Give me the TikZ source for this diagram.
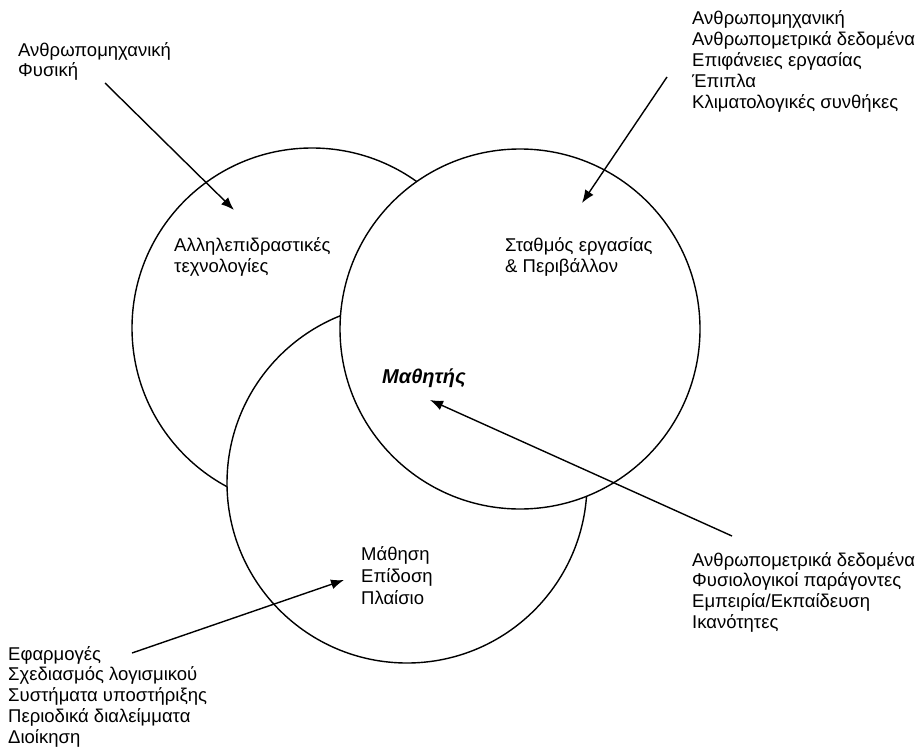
\documentclass[tikz,border=0pt]{standalone}
\usepackage{fontspec}
\setmainfont{Liberation Sans}
\usetikzlibrary{arrows.meta}
\tikzset{
  ring/.style={draw, circle, line width=1.4pt, fill=white, minimum size=360pt, inner sep=0pt},
  lbl/.style={anchor=base west, inner sep=0pt, align=left, font=\fontsize{18.5}{20.8}\selectfont},
  pointer/.style={line width=1.4pt, -{Latex[length=13pt,width=10pt]}}
}
\begin{document}
\begin{tikzpicture}[x=1pt,y=-1pt]
\useasboundingbox (0,0) rectangle (920,754);
% circles (back to front)
\node[ring] (cL) at (312,328) {};
\node[ring] (cB) at (407,483) {};
\node[ring] (cR) at (520,329) {};
% labels (anchored at the baseline of the last line)
\node[lbl] (tl) at (18,77) {Ανθρωπομηχανική\\Φυσική};
\node[lbl] (tr) at (692,108.2) {Ανθρωπομηχανική\\Ανθρωπομετρικά δεδομένα\\Επιφάνειες εργασίας\\Έπιπλα\\Κλιματολογικές συνθήκες};
\node[lbl] (lc) at (174,272) {Αλληλεπιδραστικές\\τεχνολογίες};
\node[lbl] (rc) at (505,272) {Σταθμός εργασίας\\\& Περιβάλλον};
\node[lbl, font=\fontsize{20}{22}\selectfont\bfseries\itshape] (mat) at (382,383) {Μαθητής};
\node[lbl, font=\fontsize{18.5}{21.6}\selectfont] (bc) at (361,604) {Μάθηση\\Επίδοση\\Πλαίσιο};
\node[lbl] (br) at (692,628.4) {Ανθρωπομετρικά δεδομένα\\Φυσιολογικοί παράγοντες\\Εμπειρία/Εκπαίδευση\\Ικανότητες};
\node[lbl] (bl) at (8,743.2) {Εφαρμογές\\Σχεδιασμός λογισμικού\\Συστήματα υποστήριξης\\Περιοδικά διαλείμματα\\Διοίκηση};
% arrow ends
\coordinate (a1s) at (105,83);  \coordinate (a1e) at (234,210);
\coordinate (a2s) at (667,77);  \coordinate (a2e) at (582,203);
\coordinate (a3s) at (732,536); \coordinate (a3e) at (430,400);
\coordinate (a4s) at (132,653); \coordinate (a4e) at (344,580);
\draw[pointer] (a1s) -- (a1e);
\draw[pointer] (a2s) -- (a2e);
\draw[pointer] (a3s) -- (a3e);
\draw[pointer] (a4s) -- (a4e);
\end{tikzpicture}
\end{document}
